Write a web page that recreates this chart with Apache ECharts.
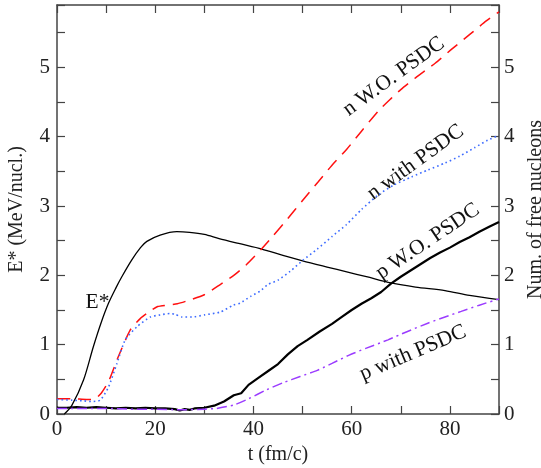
<!DOCTYPE html>
<html><head><meta charset="utf-8">
<script src="https://cdn.jsdelivr.net/npm/echarts@6/dist/echarts.min.js"></script>
<style>html,body{margin:0;padding:0;background:#fff}#c{width:541px;height:468px}</style>
</head><body><div id="c"></div>
<script>
// ---- data (t in fm/c) ----
const eStarT   = [1.5,3,5.4,7.4,9,10.5,12,13.2,15.2,17,18.3,21,24.4,27,30,33,37,41.7,46,50,55,59,63,68,73,79,84,90];
const eStarVal = [0,0.12,0.49,0.97,1.32,1.6,1.82,1.98,2.22,2.4,2.49,2.58,2.63,2.62,2.59,2.53,2.46,2.38,2.29,2.21,2.12,2.05,1.98,1.89,1.83,1.78,1.71,1.65];

const nWoT   = [0,3,6,7.5,9,10.5,12.5,14.9,17,18.9,20.5,22.4,24.5,26.4,30,33.3,36,38.5,41.5,44,47,50,53.2,56,59,62,65.4,68,70,73,77,80.5,84.3,87.4,90];
const nWoVal = [0.22,0.22,0.21,0.21,0.3,0.47,0.83,1.21,1.38,1.48,1.55,1.57,1.59,1.63,1.72,1.87,2.0,2.15,2.37,2.57,2.82,3.08,3.35,3.59,3.82,4.08,4.37,4.55,4.68,4.85,5.06,5.27,5.49,5.67,5.8];

const nWithT   = [0,3,5.4,7,8.8,10.5,12.2,13.9,16.3,19,21,23,24,25.4,27.5,30.1,33.2,35.9,37.3,39.5,41.3,43,45,47.5,50.1,53,56,58.9,62,65.4,68.5,72.2,75.5,79,82,85,87.7,90];
const nWithVal = [0.21,0.2,0.19,0.18,0.2,0.39,0.73,1.07,1.26,1.4,1.43,1.45,1.44,1.4,1.4,1.43,1.47,1.57,1.6,1.7,1.77,1.87,1.93,2.06,2.22,2.38,2.56,2.73,2.95,3.16,3.3,3.42,3.52,3.62,3.72,3.84,3.95,4.02];

const pWoT   = [0,2,4,6,8,10,12,14,16,18,20,22,24,25,26,27,28,30,32,34,36,37.5,39,41,43,45,47,49,51,53.5,56,58,60,62,64,66,68,70,72,74,76,78,80,82,84,86,88,90];
const pWoVal = [0.09,0.09,0.1,0.09,0.1,0.09,0.08,0.09,0.08,0.09,0.08,0.08,0.07,0.05,0.07,0.06,0.08,0.09,0.12,0.18,0.27,0.3,0.42,0.52,0.62,0.72,0.86,0.98,1.07,1.19,1.3,1.4,1.5,1.59,1.67,1.76,1.88,1.98,2.07,2.16,2.25,2.33,2.4,2.48,2.55,2.63,2.7,2.77];

const pWithT   = [0,5,10,15,20,25,30,32.5,36,39,42.7,46,49.5,53,56,59.5,63,67.4,71,75.5,79,82.3,86,90];
const pWithVal = [0.08,0.08,0.08,0.07,0.07,0.06,0.07,0.08,0.13,0.22,0.35,0.45,0.54,0.63,0.73,0.85,0.95,1.07,1.18,1.31,1.4,1.48,1.57,1.66];

const xTickLabels = [0,20,40,60,80];
const yTickLabels = [0,1,2,3,4,5];

// curve annotations: [text, t, value, angle deg]
const curveLabels = [
  ['n W.O. PSDC', 68.6, 4.87, 36],
  ['n with PSDC', 73.0, 3.63, 36],
  ['p W.O. PSDC', 75.5, 2.49, 34],
  ['p with PSDC', 72.5, 0.88, 23],
  ['E*', 8.25, 1.61, 0]
];

const pair = (ts, vs) => ts.map((t, i) => [t, vs[i]]);
const FONT = '"Liberation Serif"';
const axisCol = '#444';

const chart = echarts.init(document.getElementById('c'), null, {renderer: 'canvas'});
const lineAx = {lineStyle: {color: axisCol, width: 1.5}};
const tickAx = {show: true, inside: true, length: 8, lineStyle: {color: axisCol, width: 1.2}};

chart.setOption({
  animation: false,
  backgroundColor: '#fff',
  grid: {left: 57, right: 42, top: 5, bottom: 54, containLabel: false, outerBoundsMode: 'none'},
  xAxis: [
    {type: 'value', min: 0, max: 90, interval: 10, position: 'bottom',
     axisLine: Object.assign({onZero: false}, lineAx), axisTick: tickAx,
     axisLabel: {formatter: v => xTickLabels.includes(v) ? String(v) : '', fontFamily: FONT, fontSize: 21, color: '#222', margin: 5},
     splitLine: {show: false},
     name: 't (fm/c)', nameLocation: 'middle', nameGap: 24,
     nameTextStyle: {fontFamily: FONT, fontSize: 20, color: '#222'}},
    {type: 'value', min: 0, max: 90, interval: 10, position: 'top',
     axisLine: Object.assign({onZero: false}, lineAx), axisTick: tickAx,
     axisLabel: {show: false}, splitLine: {show: false}}
  ],
  yAxis: [
    {type: 'value', min: 0, max: 5.9, interval: 0.5, position: 'left',
     axisLine: Object.assign({show: true, onZero: false}, lineAx), axisTick: tickAx,
     axisLabel: {formatter: v => yTickLabels.includes(v) ? String(v) : '', fontFamily: FONT, fontSize: 21, color: '#222', margin: 7},
     splitLine: {show: false},
     name: 'E* (MeV/nucl.)', nameLocation: 'middle', nameGap: 30,
     nameTextStyle: {fontFamily: FONT, fontSize: 20, color: '#222'}},
    {type: 'value', min: 0, max: 5.9, interval: 0.5, position: 'right',
     axisLine: Object.assign({show: true, onZero: false}, lineAx), axisTick: tickAx,
     axisLabel: {formatter: v => yTickLabels.includes(v) ? String(v) : '', fontFamily: FONT, fontSize: 21, color: '#222', margin: 5},
     splitLine: {show: false},
     name: 'Num. of free nucleons', nameLocation: 'middle', nameGap: 20,
     nameTextStyle: {fontFamily: FONT, fontSize: 20, color: '#222'}}
  ],
  series: [
    {name: 'E*', type: 'line', data: pair(eStarT, eStarVal), showSymbol: false, smooth: 0.3,
     lineStyle: {color: '#000', width: 1.3}},
    {name: 'n W.O. PSDC', type: 'line', data: pair(nWoT, nWoVal), showSymbol: false, smooth: 0.2,
     lineStyle: {color: '#ff1010', width: 1.5, type: [13, 8]}},
    {name: 'n with PSDC', type: 'line', data: pair(nWithT, nWithVal), showSymbol: false, smooth: 0.2,
     lineStyle: {color: '#3d6bff', width: 1.6, type: [1.6, 3]}},
    {name: 'p W.O. PSDC', type: 'line', data: pair(pWoT, pWoVal), showSymbol: false,
     lineStyle: {color: '#000', width: 2.2}},
    {name: 'p with PSDC', type: 'line', data: pair(pWithT, pWithVal), showSymbol: false, smooth: 0.2,
     lineStyle: {color: '#9b3cff', width: 1.5, type: [10, 4, 2, 4]}}
  ]
});

const g = curveLabels.map(([txt, t, v, ang]) => {
  const p = chart.convertToPixel({gridIndex: 0}, [t, v]);
  return {type: 'text', x: p[0], y: p[1], rotation: ang * Math.PI / 180,
    style: {text: txt, fontFamily: FONT, fontSize: 21.5, fill: '#111', align: 'center', verticalAlign: 'middle'}};
});
chart.setOption({graphic: g});
</script></body></html>
